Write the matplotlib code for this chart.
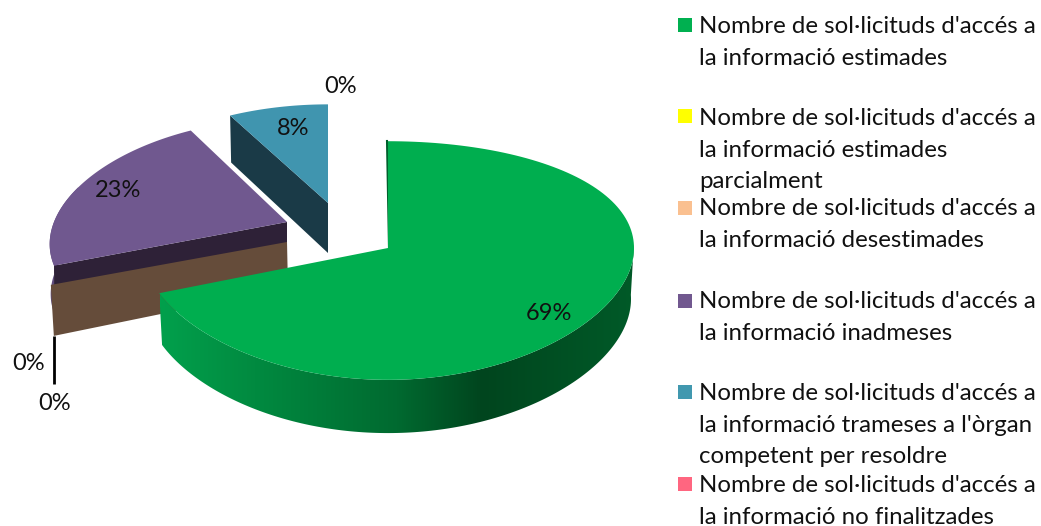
import numpy as np
import matplotlib
matplotlib.use("Agg")
import matplotlib.pyplot as plt
from matplotlib.patches import Polygon, Rectangle
from matplotlib.colors import LinearSegmentedColormap

plt.rcParams["font.family"] = ["Lato", "DejaVu Sans"]

# ==========================
# DATA
# ==========================
values = [69, 0, 0, 23, 8, 0]
pct_labels = ["69%", "0%", "0%", "23%", "8%", "0%"]
legend_labels = [
    "Nombre de sol·licituds d'accés a\nla informació estimades",
    "Nombre de sol·licituds d'accés a\nla informació estimades\nparcialment",
    "Nombre de sol·licituds d'accés a\nla informació desestimades",
    "Nombre de sol·licituds d'accés a\nla informació inadmeses",
    "Nombre de sol·licituds d'accés a\nla informació trameses a l'òrgan\ncompetent per resoldre",
    "Nombre de sol·licituds d'accés a\nla informació no finalitzades",
]
legend_colors = ["#00B050", "#FFFF00", "#FAC090", "#71588F", "#4198AF", "#FF6680"]

# ==========================
# SETUP
# ==========================
fig = plt.figure(figsize=(10.41, 5.26), dpi=100, facecolor="white")
ax = fig.add_axes([0, 0, 1, 1])
ax.set_xlim(0, 1041)
ax.set_ylim(526, 0)
ax.axis("off")

TEXT = "#111111"
KY = 0.105

# slice angles, clockwise from 12 o'clock
edges = np.cumsum([0] + values) / sum(values) * 360


def project(theta, cx, cy, rx, ry, kx):
    t = np.radians(theta)
    s, c = np.sin(t), np.cos(t)
    return cx + rx * s / (1 + kx * c), cy - ry * c / (1 + KY * c)


def arc(a, b, geom, n=160):
    x, y = project(np.linspace(a, b, n), *geom)
    return np.column_stack([x, y])


# apex x, apex y, rx, ry, perspective in x
green_geo = (388, 248, 246, 118, 0.0)
purple_geo = (287, 222, 233, 114, 0.19)
blue_geo = (328, 203, 237, 109, 0.19)
zero_geo = (287, 242, 254, 112, 0.0)
DEPTH = 50

# ==========================
# BLUE SLICE
# ==========================
a, b = edges[4], edges[5]
edge = arc(a, a, blue_geo, 1)[0]
apex = np.array(blue_geo[:2], dtype=float)
ax.add_patch(Polygon([edge, apex, apex + [0, DEPTH], edge + [1, 47]], fc="#1A3A47", ec="none", zorder=2))
ax.add_patch(Polygon(np.vstack([[apex], arc(a, b, blue_geo)]), fc="#4095AF", ec="none", zorder=3))

# ==========================
# PURPLE SLICE
# ==========================
a, b = edges[3], edges[4]
apex = np.array(purple_geo[:2], dtype=float)
outer = arc(a, a + 40, purple_geo)
low = outer + [1, DEPTH]
ax.add_patch(Polygon(np.vstack([outer, low[::-1]]), fc="#5F4B7C", ec="none", zorder=2))
edge = outer[0]
ax.add_patch(Polygon([edge, apex, apex + [0, DEPTH], edge + [0, DEPTH]], fc="#2E2137", ec="none", zorder=3))
ax.add_patch(Polygon(np.vstack([[apex], arc(a, b, purple_geo)]), fc="#70588F", ec="none", zorder=4))

# ==========================
# ZERO SLICES (only the cut wall shows)
# ==========================
apex = np.array(zero_geo[:2], dtype=float)
edge = arc(edges[2], edges[2], zero_geo, 1)[0]
ax.add_patch(Polygon([edge, apex, apex + [1, 46], edge + [3, 51]], fc="#654C3A", ec="none", zorder=5))
ax.plot([edge[0] + 3, edge[0] + 3], [edge[1] + 51, edge[1] + 99], color="black", lw=2, zorder=5, solid_capstyle="butt")

# ==========================
# GREEN SLICE
# ==========================
a, b = edges[0], edges[1]
apex = np.array(green_geo[:2], dtype=float)
top = arc(a, b, green_geo)
wall_geo = (388, 248 + 51, 243, 120, 0.0)
wall = np.vstack([arc(88, b, green_geo), arc(88, b, wall_geo)[::-1]])
wall_patch = Polygon(wall, fc="none", ec="none", zorder=6)
ax.add_patch(wall_patch)
cmap = LinearSegmentedColormap.from_list("wall", [(0, "#02A04C"), (0.2, "#018A40"), (0.5, "#006A30"),
                                                  (0.68, "#00451E"), (1, "#005A28")])
img = ax.imshow(np.linspace(0, 1, 256)[None, :], extent=(160, 634, 526, 0), aspect="auto",
                cmap=cmap, zorder=6, interpolation="bilinear")
img.set_clip_path(wall_patch)
ax.set_xlim(0, 1041)
ax.set_ylim(526, 0)
ax.plot([387, 389], [141, 248], color="#00602C", lw=1.5, zorder=6)
ax.add_patch(Polygon(np.vstack([[apex], top]), fc="#00AE4F", ec="none", zorder=7))

# ==========================
# PERCENT LABELS
# ==========================
label_pos = [(549, 313.5), (29, 363.5), (55, 403.5), (118, 190.5), (293, 128.5), (341, 86.5)]
for txt, (x, y) in zip(pct_labels, label_pos):
    ax.text(x, y, txt, ha="center", va="center", fontsize=17, color=TEXT, zorder=8)

# ==========================
# LEGEND
# ==========================
legend_y = [25, 116, 208, 301, 392, 484]
text_y = [16, 108, 198, 291, 383, 475]
for lab, col, ym, yt in zip(legend_labels, legend_colors, legend_y, text_y):
    ax.add_patch(Rectangle((678, ym - 7), 14, 14, fc=col, ec="none"))
    ax.text(699, yt, lab, ha="left", va="top", fontsize=17.3, color=TEXT, linespacing=1.62)

fig.savefig("out.png", dpi=100)
